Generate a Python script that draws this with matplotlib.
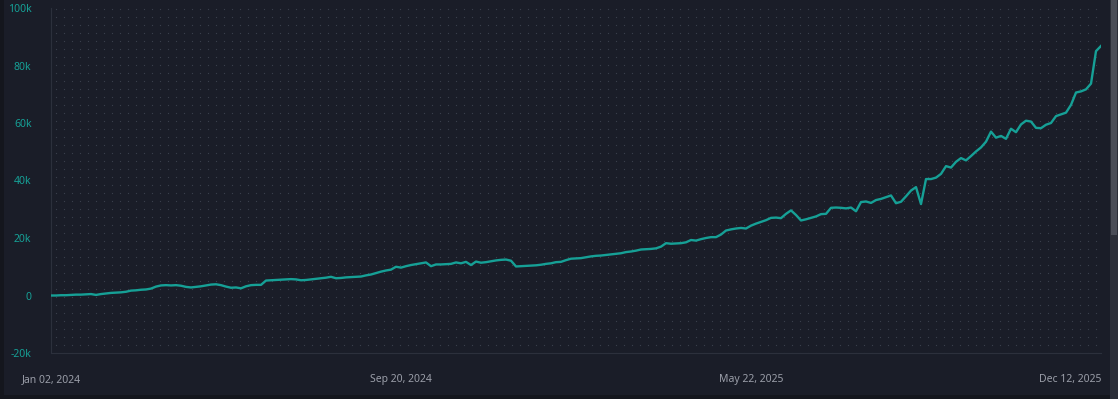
import numpy as np
import matplotlib
matplotlib.use('Agg')
import matplotlib.pyplot as plt
from matplotlib.patches import Rectangle

# equity curve (k), evenly spaced trading-day samples
equity_k = [
    0.0, 0.0, 0.1, 0.1, 0.2, 0.3, 0.3, 0.4, 0.5, 0.2,
    0.5, 0.7, 0.9, 1.0, 1.1, 1.3, 1.7, 1.8, 2.0, 2.1,
    2.4, 3.1, 3.5, 3.6, 3.5, 3.6, 3.4, 3.0, 2.8, 3.0,
    3.2, 3.5, 3.8, 3.9, 3.6, 3.1, 2.7, 2.8, 2.5, 3.2,
    3.6, 3.7, 3.7, 5.2, 5.3, 5.4, 5.5, 5.6, 5.7, 5.6,
    5.3, 5.4, 5.6, 5.8, 6.0, 6.2, 6.5, 6.0, 6.1, 6.3,
    6.4, 6.5, 6.6, 7.0, 7.3, 7.8, 8.3, 8.7, 9.0, 10.0,
    9.7, 10.2, 10.6, 10.9, 11.2, 11.5, 10.2, 10.8, 10.8, 10.9,
    11.0, 11.5, 11.2, 11.7, 10.6, 11.8, 11.4, 11.6, 11.9, 12.2,
    12.4, 12.5, 12.1, 10.1, 10.2, 10.3, 10.4, 10.5, 10.7, 11.0,
    11.2, 11.6, 11.7, 12.3, 12.8, 12.9, 13.0, 13.3, 13.6, 13.8,
    13.9, 14.1, 14.3, 14.5, 14.7, 15.1, 15.3, 15.6, 16.0, 16.1,
    16.2, 16.4, 17.0, 18.2, 18.0, 18.1, 18.2, 18.5, 19.3, 19.1,
    19.6, 20.0, 20.3, 20.3, 21.2, 22.6, 23.0, 23.3, 23.5, 23.3,
    24.3, 25.0, 25.6, 26.2, 27.0, 27.1, 26.9, 28.4, 29.6, 28.0,
    26.1, 26.5, 27.0, 27.5, 28.3, 28.4, 30.5, 30.6, 30.5, 30.3,
    30.6, 29.3, 32.5, 32.7, 32.2, 33.2, 33.6, 34.2, 34.8, 32.1,
    32.6, 34.5, 36.5, 37.7, 31.8, 40.5, 40.5, 41.0, 42.3, 45.0,
    44.5, 46.5, 47.8, 47.0, 48.5, 50.1, 51.5, 53.5, 57.0, 54.9,
    55.5, 54.5, 58.0, 56.8, 59.5, 60.8, 60.5, 58.3, 58.2, 59.4,
    60.0, 62.4, 63.0, 63.6, 66.3, 70.6, 71.0, 71.7, 73.7, 85.0,
    86.8,
]
equity = np.array(equity_k) * 1000
idx = np.arange(len(equity))

x_labels = ['Jan 02, 2024', 'Sep 20, 2024', 'May 22, 2025', 'Dec 12, 2025']
y_ticks = [-20000, 0, 20000, 40000, 60000, 80000, 100000]

bg = '#1a1d28'
teal = '#16a096'

fig = plt.figure(figsize=(11.18, 3.99), dpi=100, facecolor='#14161d')
# card background + scrollbar strip
fig.patches.append(Rectangle((4/1118, 4/399), 1106/1118, 395/399, transform=fig.transFigure,
                             facecolor=bg, edgecolor='none', zorder=-10))
fig.patches.append(Rectangle((1110/1118, 0), 8/1118, 1, transform=fig.transFigure,
                             facecolor='#2b2e38', edgecolor='none', zorder=-10))
fig.patches.append(Rectangle((1111/1118, 1 - 235/399), 6/1118, 235/399, transform=fig.transFigure,
                             facecolor='#4a4d57', edgecolor='none', zorder=-9))

ax = fig.add_axes([51/1118, 1 - 353/399, 1050/1118, 345/399])
ax.set_facecolor(bg)

# dotted background grid
gx, gy = np.meshgrid(np.arange(0.005, 1.0, 8/1050), np.arange(0.0, 1.0, 8/345))
ax.scatter(gx.ravel(), gy.ravel(), s=0.8, c='#3c404d', marker='o', linewidths=0,
           transform=ax.transAxes, zorder=1)

ax.plot(idx, equity, color=teal, lw=1.7, zorder=3, solid_joinstyle='round')

n = len(equity) - 1
ax.set_xlim(0, n)
ax.set_ylim(-20000, 100000)
ax.set_yticks(y_ticks)
ax.set_yticklabels(['0' if v == 0 else f'{v//1000}k' for v in y_ticks])
ax.set_xticks([0, n/3, 2*n/3, n])
ax.set_xticklabels(x_labels)

for s in ['top', 'right']:
    ax.spines[s].set_visible(False)
ax.spines['left'].set_color('#2c303c')
ax.spines['bottom'].set_color('#2c303c')
ax.tick_params(axis='both', length=0)
ax.tick_params(axis='y', colors=teal, labelsize=7.5, pad=14)
ax.tick_params(axis='x', colors='#9a9ea8', labelsize=7.5, pad=15)
for lab in ax.get_yticklabels() + ax.get_xticklabels():
    lab.set_family('Noto Sans')
ax.get_xticklabels()[-1].set_horizontalalignment('right')

fig.savefig('out.png', dpi=100, facecolor=fig.get_facecolor())
